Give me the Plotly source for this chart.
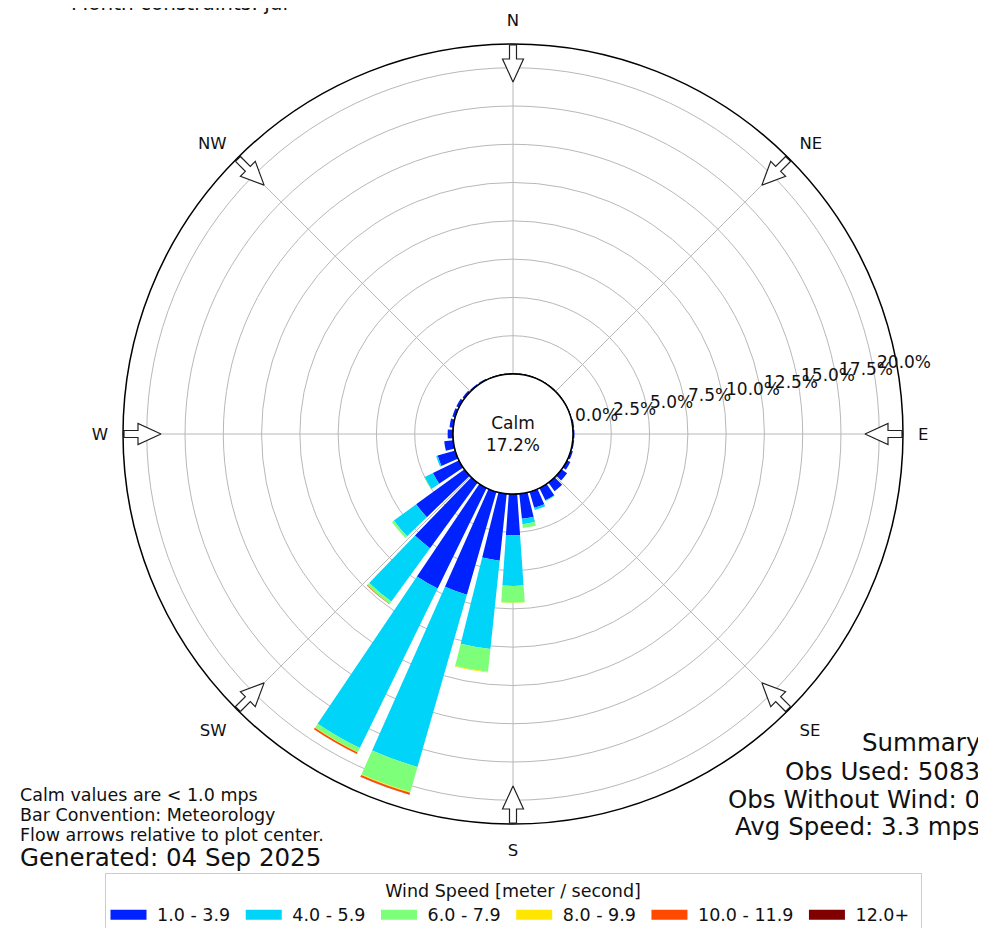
import math
import plotly.graph_objects as go

# wind direction bins (deg, meteorological) and percent of obs per speed bin
directions = list(range(0, 360, 10))

speed_bins = ["1.0 - 3.9", "4.0 - 5.9", "6.0 - 7.9", "8.0 - 9.9", "10.0 - 11.9", "12.0+"]
bin_colors = ["#0022ff", "#00d4f8", "#7dff7a", "#ffe600", "#ff4a00", "#800000"]

#            0     10    20    30    40    50    60    70    80    90    100   110   120   130   140   150   160   170
pct_1_4 = [0.05, 0.05, 0.05, 0.05, 0.05, 0.05, 0.05, 0.05, 0.1, 0.1, 0.1, 0.15, 0.25, 0.45, 0.7, 0.9, 1.1, 1.65,
           2.7, 4.4, 7.0, 7.3, 5.3, 3.9, 1.9, 1.2, 0.6, 0.35, 0.25, 0.2, 0.2, 0.15, 0.1, 0.1, 0.05, 0.05]
#          180   190  200  210  220  230  240  250  260  270   280   290  300  310   320  330  340   350
pct_4_6 = [0, 0, 0, 0, 0, 0, 0, 0, 0, 0, 0, 0, 0, 0, 0, 0.05, 0.15, 0.35,
           3.3, 5.8, 11.7, 11.6, 4.3, 1.8, 0.6, 0.1, 0, 0, 0, 0, 0, 0, 0, 0, 0, 0]
pct_6_8 = [0, 0, 0, 0, 0, 0, 0, 0, 0, 0, 0, 0, 0, 0, 0, 0, 0, 0.25,
           1.1, 1.5, 1.7, 0.3, 0.2, 0.15, 0.03, 0, 0, 0, 0, 0, 0, 0, 0, 0, 0, 0]
pct_8_10 = [0, 0, 0, 0, 0, 0, 0, 0, 0, 0, 0, 0, 0, 0, 0, 0, 0, 0,
            0.02, 0.05, 0.05, 0.03, 0, 0, 0, 0, 0, 0, 0, 0, 0, 0, 0, 0, 0, 0]
pct_10_12 = [0, 0, 0, 0, 0, 0, 0, 0, 0, 0, 0, 0, 0, 0, 0, 0, 0, 0,
             0, 0, 0.12, 0.1, 0.03, 0, 0, 0, 0, 0, 0, 0, 0, 0, 0, 0, 0, 0]
pct_12 = [0, 0, 0, 0, 0, 0, 0, 0, 0, 0, 0, 0, 0, 0, 0, 0, 0, 0,
          0, 0, 0.02, 0, 0, 0, 0, 0, 0, 0, 0, 0, 0, 0, 0, 0, 0, 0]
all_pct = [pct_1_4, pct_4_6, pct_6_8, pct_8_10, pct_10_12, pct_12]

compass_angles = [0, 45, 90, 135, 180, 225, 270, 315]
compass_labels = ["N", "NE", "E", "SE", "S", "SW", "W", "NW"]
radial_ticks = [0, 2.5, 5, 7.5, 10, 12.5, 15, 17.5, 20]
radial_labels = ["%.1f%%" % v for v in radial_ticks]

calm_pct = 17.2
summary = ["Summary", "Obs Used: 5083", "Obs Without Wind: 0", "Avg Speed: 3.3 mps"]
notes = ["Calm values are < 1.0 mps", "Bar Convention: Meteorology", "Flow arrows relative to plot center."]
generated = "Generated: 04 Sep 2025"
title_tail = "Month constraints: jul"

# page body has an 8px margin, so the figure is drawn 8px in from the corner
W, H = 978, 920
cx, cy, R_out, R_calm = 505, 426, 390, 60
rmax = 21.55
label_angle = 10  # radial labels run along this angle (deg from east)
FONT = "DejaVu Sans"

fig = go.Figure()

for name, col, vals in zip(speed_bins, bin_colors, all_pct):
    fig.add_trace(go.Barpolar(r=vals, theta=directions, width=8, name=name,
                              marker=dict(color=col, line=dict(width=0)),
                              showlegend=False))

# legend entries with wide swatches (nbsp pads the gaps around the text)
for name, col in zip(speed_bins, bin_colors):
    fig.add_trace(go.Scatterpolar(r=[None], theta=[None], mode="lines",
                                  name="\u00a0" + name + "\u00a0",
                                  line=dict(color=col, width=10)))

# black circle around the calm area
fig.add_trace(go.Scatterpolar(r=[0] * 361, theta=list(range(361)), mode="lines",
                              line=dict(color="black", width=1.5),
                              showlegend=False, hoverinfo="skip"))

# hollow flow arrows on the rim, pointing inward
k = (R_out - R_calm) / rmax
outline = [(1, -3.5), (15, -3.5), (15, -10.5), (38, 0), (15, 10.5), (15, 3.5), (1, 3.5), (1, -3.5)]
for ang in compass_angles:
    rr, tt = [], []
    for u, v in outline:
        Rp = R_out - u
        rr.append((math.hypot(Rp, v) - R_calm) / k)
        tt.append(ang + math.degrees(math.atan2(v, Rp)))
    fig.add_trace(go.Scatterpolar(r=rr, theta=tt, mode="lines", fill="toself",
                                  fillcolor="white", line=dict(color="#222", width=1.2),
                                  showlegend=False, hoverinfo="skip"))

fig.update_layout(
    width=W, height=H,
    margin=dict(l=0, r=0, t=0, b=0, autoexpand=False),
    paper_bgcolor="white",
    font=dict(family=FONT, size=17, color="#111"),
    barmode="stack",
    polar=dict(
        domain=dict(x=[(cx - R_out) / W, (cx + R_out) / W],
                    y=[1 - (cy + R_out) / H, 1 - (cy - R_out) / H]),
        hole=R_calm / R_out,
        bgcolor="white",
        angularaxis=dict(direction="clockwise", rotation=90,
                         tickmode="array", tickvals=compass_angles, ticktext=compass_labels,
                         ticks="outside", ticklen=11, tickcolor="rgba(0,0,0,0)",
                         showline=True, linecolor="black", linewidth=1.5,
                         gridcolor="#b8b8b8", gridwidth=1,
                         tickfont=dict(size=16.5)),
        radialaxis=dict(range=[0, rmax], angle=label_angle,
                        tickmode="array", tickvals=radial_ticks,
                        showticklabels=False, showline=False, ticks="",
                        gridcolor="#b8b8b8", gridwidth=1),
    ),
    legend=dict(orientation="h", x=cx / W, xanchor="center", y=1 - 865 / H, yanchor="top",
                title=dict(text="Wind Speed [meter / second]", side="top center",
                           font=dict(size=17.5)),
                font=dict(size=17.5), bordercolor="#cccccc", borderwidth=1,
                itemwidth=36, bgcolor="white"),
)

ann = []
# radial percent labels, left/bottom anchored at each ring along the label angle
ca, sa = math.cos(math.radians(label_angle)), math.sin(math.radians(label_angle))
for v, lab in zip(radial_ticks, radial_labels):
    rp = R_calm + k * v + 2
    ann.append(dict(text=lab, x=(cx + rp * ca) / W, y=1 - (cy - rp * sa + 3) / H,
                    xref="paper", yref="paper", xanchor="left", yanchor="bottom",
                    showarrow=False, borderpad=0, font=dict(size=17)))
ann.append(dict(text="Calm<br>%.1f%%" % calm_pct, x=cx / W, y=1 - cy / H,
                xref="paper", yref="paper", showarrow=False, font=dict(size=17)))
ann.append(dict(text=title_tail, x=282 / W, y=1 + 5 / H, xref="paper", yref="paper",
                xanchor="right", yanchor="middle", showarrow=False, font=dict(size=20)))
for i, line in enumerate(notes):
    ann.append(dict(text=line, x=10 / W, y=1 - (787 + 20 * i) / H, xref="paper", yref="paper",
                    xanchor="left", yanchor="middle", showarrow=False, font=dict(size=17.5)))
ann.append(dict(text=generated, x=10 / W, y=1 - 849 / H, xref="paper", yref="paper",
                xanchor="left", yanchor="middle", showarrow=False, font=dict(size=24.5)))
for yy, line in zip([734, 763, 791, 818], summary):
    ann.append(dict(text=line, x=974 / W, y=1 - yy / H, xref="paper", yref="paper",
                    xanchor="right", yanchor="middle", showarrow=False, font=dict(size=24.5)))
fig.update_layout(annotations=ann)

fig.write_html("out.html")
